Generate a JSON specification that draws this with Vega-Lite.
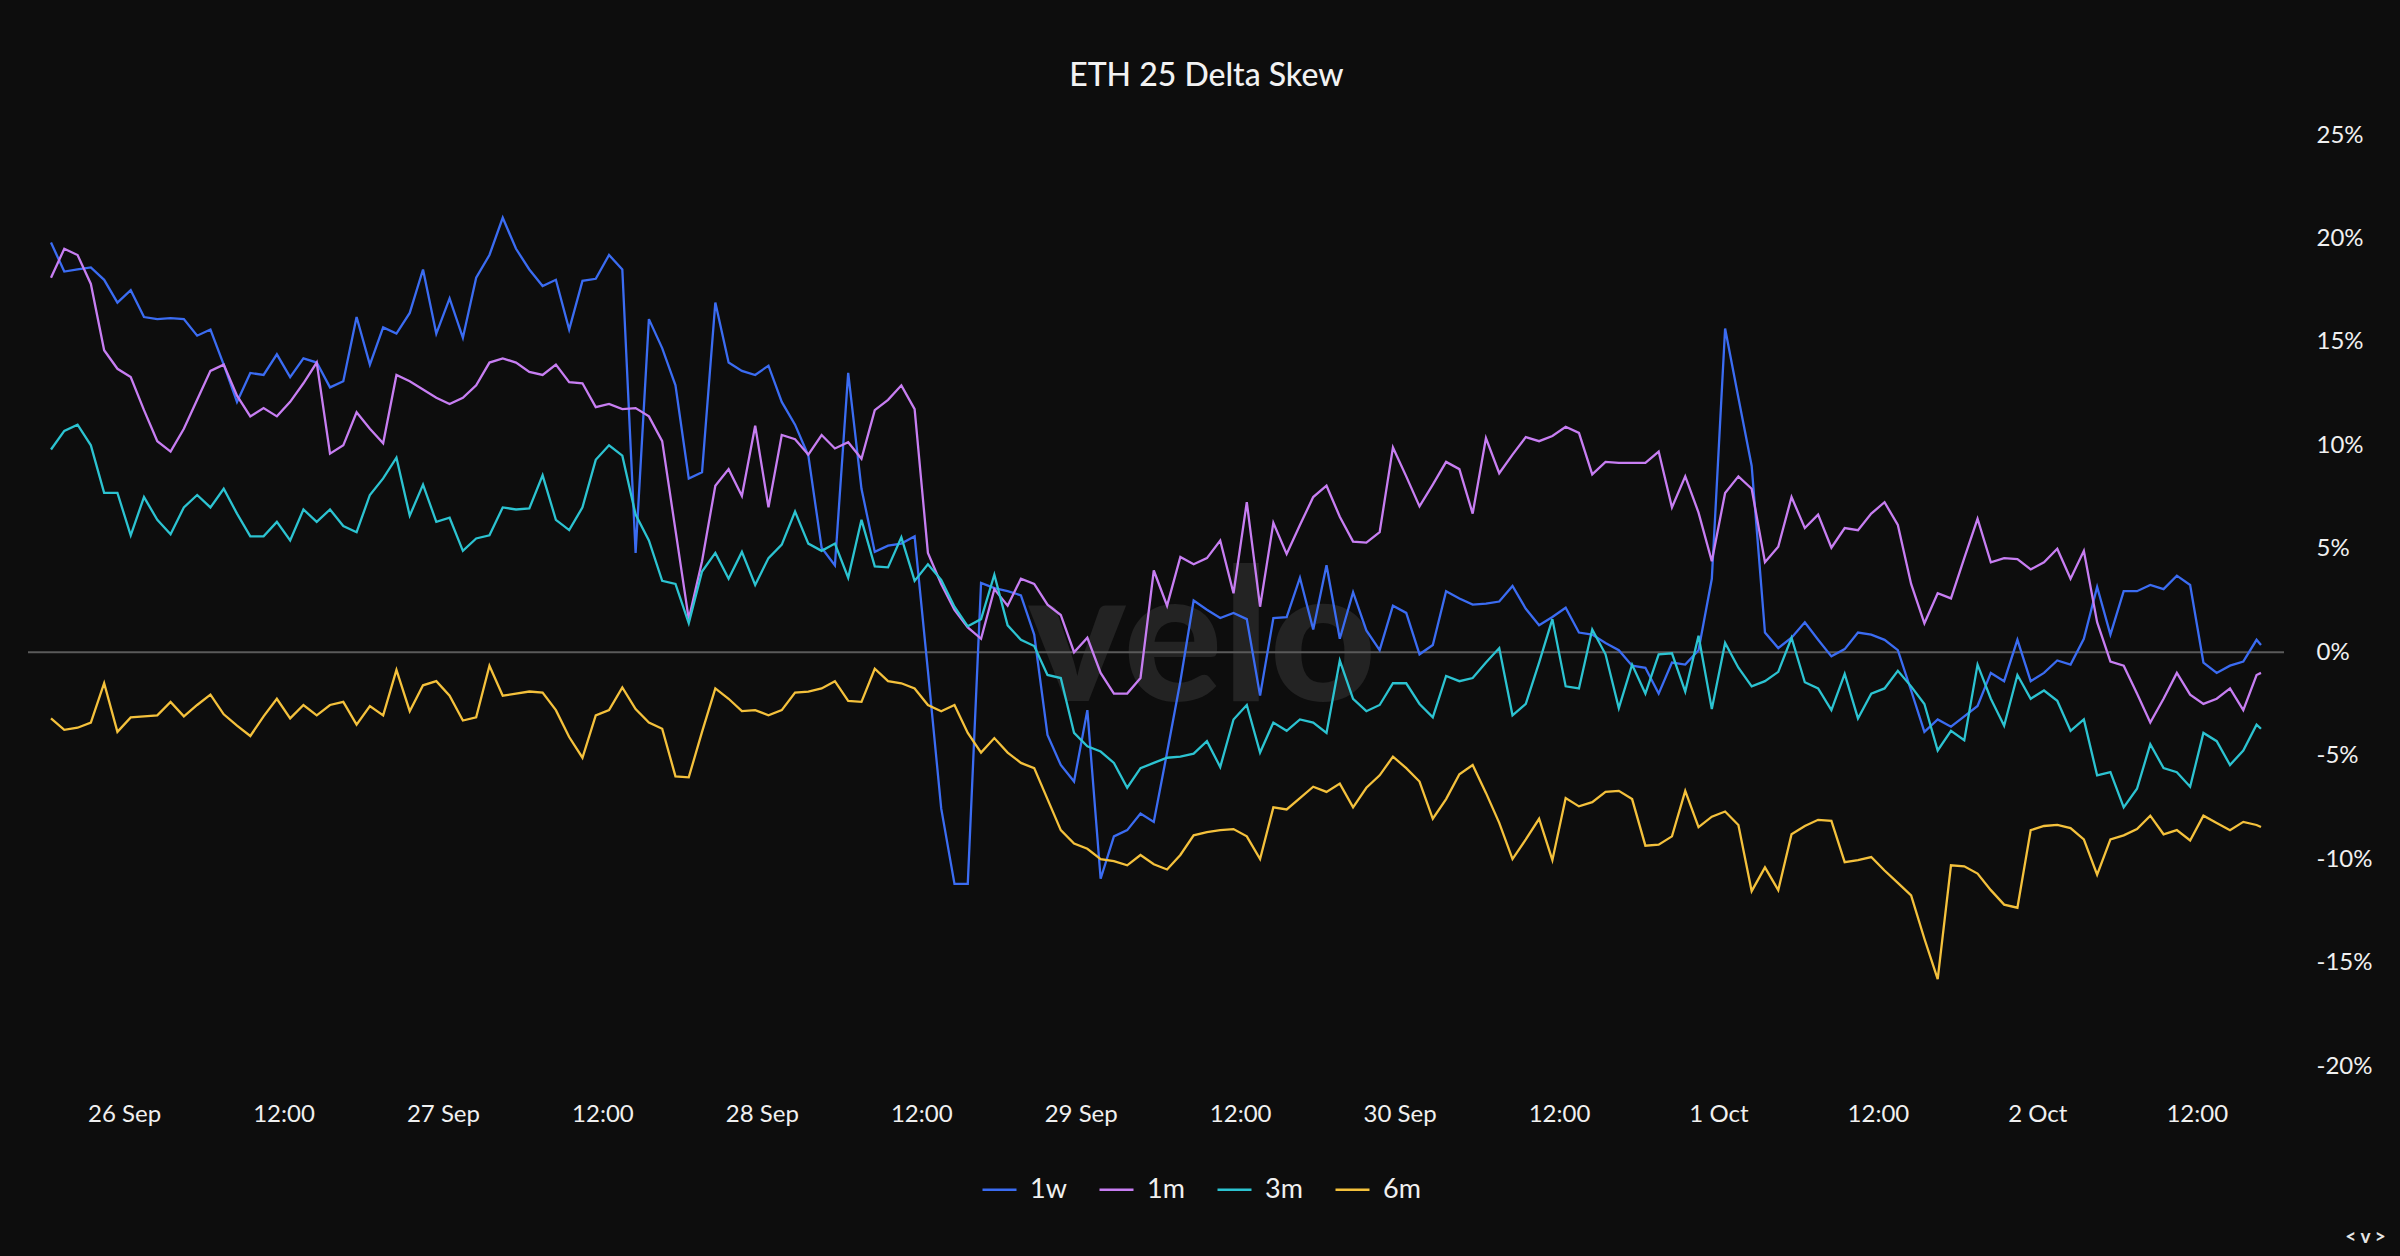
{
  "$schema": "https://vega.github.io/schema/vega-lite/v6.json",
  "description": "ETH 25 delta skew by tenor, hourly.",
  "width": 2256,
  "height": 931,
  "autosize": {"type": "none"},
  "padding": {"left": 28, "top": 135, "right": 116, "bottom": 190},
  "background": "#0d0d0d",
  "config": {"view": {"stroke": null}, "font": "Lato"},
  "title": {
    "text": "ETH 25 Delta Skew",
    "fontSize": 32,
    "fontWeight": 500,
    "color": "#f2f2f2",
    "anchor": "middle",
    "frame": "bounds",
    "baseline": "alphabetic",
    "offset": 5
  },
  "resolve": {"axis": {"x": "independent", "y": "independent"}},
  "layer": [
    {
      "data": {"values": [{}]},
      "mark": {"type": "text", "text": "velo", "font": "Lato", "fontSize": 185, "fontWeight": 900, "color": "#232323", "align": "center", "baseline": "alphabetic", "dx": 46},
      "encoding": {
        "y": {"datum": -2.36, "type": "quantitative", "axis": null}
      }
    },
    {
      "data": {"values": [{}]},
      "mark": {"type": "rule", "color": "#5a5a5a", "strokeWidth": 2},
      "encoding": {
        "y": {"datum": 0, "type": "quantitative", "axis": null}
      }
    },
    {
      "data": {"values": [
        {"t": "2023-09-25T18:30", "1w": 19.8, "1m": 18.1, "3m": 9.8, "6m": -3.2},
        {"t": "2023-09-25T19:30", "1w": 18.4, "1m": 19.5, "3m": 10.7, "6m": -3.75},
        {"t": "2023-09-25T20:30", "1w": 18.5, "1m": 19.2, "3m": 11.0, "6m": -3.65},
        {"t": "2023-09-25T21:30", "1w": 18.6, "1m": 17.8, "3m": 10.0, "6m": -3.4},
        {"t": "2023-09-25T22:30", "1w": 18.0, "1m": 14.6, "3m": 7.7, "6m": -1.5},
        {"t": "2023-09-25T23:30", "1w": 16.9, "1m": 13.7, "3m": 7.7, "6m": -3.85},
        {"t": "2023-09-26T00:30", "1w": 17.5, "1m": 13.3, "3m": 5.65, "6m": -3.15},
        {"t": "2023-09-26T01:30", "1w": 16.2, "1m": 11.7, "3m": 7.5, "6m": -3.1},
        {"t": "2023-09-26T02:30", "1w": 16.1, "1m": 10.2, "3m": 6.4, "6m": -3.05},
        {"t": "2023-09-26T03:30", "1w": 16.15, "1m": 9.7, "3m": 5.7, "6m": -2.4},
        {"t": "2023-09-26T04:30", "1w": 16.1, "1m": 10.8, "3m": 7.0, "6m": -3.1},
        {"t": "2023-09-26T05:30", "1w": 15.3, "1m": 12.2, "3m": 7.6, "6m": -2.55},
        {"t": "2023-09-26T06:30", "1w": 15.6, "1m": 13.6, "3m": 7.0, "6m": -2.05},
        {"t": "2023-09-26T07:30", "1w": 13.9, "1m": 13.9, "3m": 7.9, "6m": -3.0},
        {"t": "2023-09-26T08:30", "1w": 12.1, "1m": 12.4, "3m": 6.7, "6m": -3.55},
        {"t": "2023-09-26T09:30", "1w": 13.5, "1m": 11.4, "3m": 5.6, "6m": -4.05},
        {"t": "2023-09-26T10:30", "1w": 13.4, "1m": 11.8, "3m": 5.6, "6m": -3.1},
        {"t": "2023-09-26T11:30", "1w": 14.4, "1m": 11.4, "3m": 6.3, "6m": -2.25},
        {"t": "2023-09-26T12:30", "1w": 13.3, "1m": 12.1, "3m": 5.4, "6m": -3.2},
        {"t": "2023-09-26T13:30", "1w": 14.2, "1m": 13.0, "3m": 6.9, "6m": -2.55},
        {"t": "2023-09-26T14:30", "1w": 14.0, "1m": 14.0, "3m": 6.3, "6m": -3.05},
        {"t": "2023-09-26T15:30", "1w": 12.8, "1m": 9.6, "3m": 6.9, "6m": -2.55},
        {"t": "2023-09-26T16:30", "1w": 13.1, "1m": 10.0, "3m": 6.1, "6m": -2.4},
        {"t": "2023-09-26T17:30", "1w": 16.2, "1m": 11.6, "3m": 5.8, "6m": -3.5},
        {"t": "2023-09-26T18:30", "1w": 13.9, "1m": 10.8, "3m": 7.6, "6m": -2.6},
        {"t": "2023-09-26T19:30", "1w": 15.7, "1m": 10.1, "3m": 8.4, "6m": -3.05},
        {"t": "2023-09-26T20:30", "1w": 15.4, "1m": 13.4, "3m": 9.4, "6m": -0.85},
        {"t": "2023-09-26T21:30", "1w": 16.4, "1m": 13.1, "3m": 6.6, "6m": -2.85},
        {"t": "2023-09-26T22:30", "1w": 18.5, "1m": 12.7, "3m": 8.1, "6m": -1.6},
        {"t": "2023-09-26T23:30", "1w": 15.4, "1m": 12.3, "3m": 6.3, "6m": -1.4},
        {"t": "2023-09-27T00:30", "1w": 17.1, "1m": 12.0, "3m": 6.5, "6m": -2.1},
        {"t": "2023-09-27T01:30", "1w": 15.2, "1m": 12.3, "3m": 4.9, "6m": -3.3},
        {"t": "2023-09-27T02:30", "1w": 18.1, "1m": 12.9, "3m": 5.5, "6m": -3.15},
        {"t": "2023-09-27T03:30", "1w": 19.2, "1m": 14.0, "3m": 5.65, "6m": -0.65},
        {"t": "2023-09-27T04:30", "1w": 21.0, "1m": 14.2, "3m": 7.0, "6m": -2.1},
        {"t": "2023-09-27T05:30", "1w": 19.5, "1m": 14.0, "3m": 6.9, "6m": -2.0},
        {"t": "2023-09-27T06:30", "1w": 18.5, "1m": 13.55, "3m": 6.95, "6m": -1.9},
        {"t": "2023-09-27T07:30", "1w": 17.7, "1m": 13.4, "3m": 8.55, "6m": -1.95},
        {"t": "2023-09-27T08:30", "1w": 18.0, "1m": 13.9, "3m": 6.4, "6m": -2.8},
        {"t": "2023-09-27T09:30", "1w": 15.6, "1m": 13.05, "3m": 5.9, "6m": -4.1},
        {"t": "2023-09-27T10:30", "1w": 17.95, "1m": 13.0, "3m": 7.0, "6m": -5.1},
        {"t": "2023-09-27T11:30", "1w": 18.05, "1m": 11.85, "3m": 9.3, "6m": -3.05},
        {"t": "2023-09-27T12:30", "1w": 19.2, "1m": 12.0, "3m": 10.0, "6m": -2.8},
        {"t": "2023-09-27T13:30", "1w": 18.5, "1m": 11.75, "3m": 9.5, "6m": -1.7},
        {"t": "2023-09-27T14:30", "1w": 4.8, "1m": 11.8, "3m": 6.65, "6m": -2.75},
        {"t": "2023-09-27T15:30", "1w": 16.1, "1m": 11.4, "3m": 5.4, "6m": -3.4},
        {"t": "2023-09-27T16:30", "1w": 14.7, "1m": 10.2, "3m": 3.45, "6m": -3.7},
        {"t": "2023-09-27T17:30", "1w": 12.9, "1m": 5.9, "3m": 3.3, "6m": -6.0},
        {"t": "2023-09-27T18:30", "1w": 8.4, "1m": 1.6, "3m": 1.4, "6m": -6.05},
        {"t": "2023-09-27T19:30", "1w": 8.7, "1m": 4.4, "3m": 3.9, "6m": -3.85},
        {"t": "2023-09-27T20:30", "1w": 16.9, "1m": 8.05, "3m": 4.8, "6m": -1.75},
        {"t": "2023-09-27T21:30", "1w": 14.0, "1m": 8.85, "3m": 3.55, "6m": -2.25},
        {"t": "2023-09-27T22:30", "1w": 13.6, "1m": 7.55, "3m": 4.85, "6m": -2.85},
        {"t": "2023-09-27T23:30", "1w": 13.4, "1m": 10.95, "3m": 3.25, "6m": -2.8},
        {"t": "2023-09-28T00:30", "1w": 13.85, "1m": 7.0, "3m": 4.55, "6m": -3.05},
        {"t": "2023-09-28T01:30", "1w": 12.1, "1m": 10.5, "3m": 5.2, "6m": -2.8},
        {"t": "2023-09-28T02:30", "1w": 11.0, "1m": 10.3, "3m": 6.8, "6m": -1.95},
        {"t": "2023-09-28T03:30", "1w": 9.5, "1m": 9.55, "3m": 5.25, "6m": -1.9},
        {"t": "2023-09-28T04:30", "1w": 5.05, "1m": 10.5, "3m": 4.9, "6m": -1.75},
        {"t": "2023-09-28T05:30", "1w": 4.2, "1m": 9.85, "3m": 5.25, "6m": -1.4},
        {"t": "2023-09-28T06:30", "1w": 13.5, "1m": 10.15, "3m": 3.6, "6m": -2.35},
        {"t": "2023-09-28T07:30", "1w": 7.9, "1m": 9.35, "3m": 6.4, "6m": -2.4},
        {"t": "2023-09-28T08:30", "1w": 4.85, "1m": 11.7, "3m": 4.15, "6m": -0.8},
        {"t": "2023-09-28T09:30", "1w": 5.15, "1m": 12.2, "3m": 4.1, "6m": -1.4},
        {"t": "2023-09-28T10:30", "1w": 5.25, "1m": 12.9, "3m": 5.55, "6m": -1.5},
        {"t": "2023-09-28T11:30", "1w": 5.6, "1m": 11.75, "3m": 3.45, "6m": -1.75},
        {"t": "2023-09-28T12:30", "1w": -0.9, "1m": 4.8, "3m": 4.25, "6m": -2.55},
        {"t": "2023-09-28T13:30", "1w": -7.55, "1m": 3.3, "3m": 3.5, "6m": -2.85},
        {"t": "2023-09-28T14:30", "1w": -11.2, "1m": 2.05, "3m": 2.2, "6m": -2.55},
        {"t": "2023-09-28T15:30", "1w": -11.2, "1m": 1.2, "3m": 1.25, "6m": -3.9},
        {"t": "2023-09-28T16:30", "1w": 3.35, "1m": 0.65, "3m": 1.6, "6m": -4.85},
        {"t": "2023-09-28T17:30", "1w": 3.1, "1m": 3.05, "3m": 3.75, "6m": -4.15},
        {"t": "2023-09-28T18:30", "1w": 2.95, "1m": 2.25, "3m": 1.3, "6m": -4.85},
        {"t": "2023-09-28T19:30", "1w": 2.75, "1m": 3.55, "3m": 0.6, "6m": -5.35},
        {"t": "2023-09-28T20:30", "1w": 0.85, "1m": 3.3, "3m": 0.3, "6m": -5.6},
        {"t": "2023-09-28T21:30", "1w": -4.0, "1m": 2.3, "3m": -1.1, "6m": -7.1},
        {"t": "2023-09-28T22:30", "1w": -5.45, "1m": 1.8, "3m": -1.25, "6m": -8.6},
        {"t": "2023-09-28T23:30", "1w": -6.25, "1m": 0.0, "3m": -3.9, "6m": -9.25},
        {"t": "2023-09-29T00:30", "1w": -2.8, "1m": 0.7, "3m": -4.55, "6m": -9.5},
        {"t": "2023-09-29T01:30", "1w": -10.95, "1m": -1.0, "3m": -4.8, "6m": -10.0},
        {"t": "2023-09-29T02:30", "1w": -8.9, "1m": -2.0, "3m": -5.35, "6m": -10.1},
        {"t": "2023-09-29T03:30", "1w": -8.6, "1m": -2.0, "3m": -6.55, "6m": -10.3},
        {"t": "2023-09-29T04:30", "1w": -7.8, "1m": -1.25, "3m": -5.6, "6m": -9.8},
        {"t": "2023-09-29T05:30", "1w": -8.2, "1m": 3.95, "3m": -5.35, "6m": -10.25},
        {"t": "2023-09-29T06:30", "1w": -4.85, "1m": 2.25, "3m": -5.1, "6m": -10.5},
        {"t": "2023-09-29T07:30", "1w": -1.4, "1m": 4.6, "3m": -5.05, "6m": -9.8},
        {"t": "2023-09-29T08:30", "1w": 2.5, "1m": 4.25, "3m": -4.9, "6m": -8.85},
        {"t": "2023-09-29T09:30", "1w": 2.05, "1m": 4.55, "3m": -4.3, "6m": -8.7},
        {"t": "2023-09-29T10:30", "1w": 1.65, "1m": 5.4, "3m": -5.55, "6m": -8.6},
        {"t": "2023-09-29T11:30", "1w": 1.9, "1m": 2.85, "3m": -3.25, "6m": -8.55},
        {"t": "2023-09-29T12:30", "1w": 1.6, "1m": 7.25, "3m": -2.55, "6m": -8.9},
        {"t": "2023-09-29T13:30", "1w": -2.1, "1m": 2.2, "3m": -4.85, "6m": -10.0},
        {"t": "2023-09-29T14:30", "1w": 1.65, "1m": 6.25, "3m": -3.4, "6m": -7.5},
        {"t": "2023-09-29T15:30", "1w": 1.7, "1m": 4.75, "3m": -3.8, "6m": -7.6},
        {"t": "2023-09-29T16:30", "1w": 3.6, "1m": 6.15, "3m": -3.25, "6m": -7.05},
        {"t": "2023-09-29T17:30", "1w": 1.1, "1m": 7.5, "3m": -3.4, "6m": -6.5},
        {"t": "2023-09-29T18:30", "1w": 4.2, "1m": 8.05, "3m": -3.9, "6m": -6.75},
        {"t": "2023-09-29T19:30", "1w": 0.65, "1m": 6.55, "3m": -0.4, "6m": -6.35},
        {"t": "2023-09-29T20:30", "1w": 2.9, "1m": 5.35, "3m": -2.25, "6m": -7.5},
        {"t": "2023-09-29T21:30", "1w": 1.05, "1m": 5.3, "3m": -2.85, "6m": -6.55},
        {"t": "2023-09-29T22:30", "1w": 0.1, "1m": 5.8, "3m": -2.55, "6m": -5.95},
        {"t": "2023-09-29T23:30", "1w": 2.25, "1m": 9.9, "3m": -1.5, "6m": -5.05},
        {"t": "2023-09-30T00:30", "1w": 1.9, "1m": 8.5, "3m": -1.5, "6m": -5.6},
        {"t": "2023-09-30T01:30", "1w": -0.1, "1m": 7.05, "3m": -2.5, "6m": -6.25},
        {"t": "2023-09-30T02:30", "1w": 0.35, "1m": 8.1, "3m": -3.15, "6m": -8.05},
        {"t": "2023-09-30T03:30", "1w": 2.95, "1m": 9.2, "3m": -1.15, "6m": -7.1},
        {"t": "2023-09-30T04:30", "1w": 2.6, "1m": 8.85, "3m": -1.4, "6m": -5.9},
        {"t": "2023-09-30T05:30", "1w": 2.3, "1m": 6.7, "3m": -1.25, "6m": -5.45},
        {"t": "2023-09-30T06:30", "1w": 2.35, "1m": 10.35, "3m": -0.5, "6m": -6.8},
        {"t": "2023-09-30T07:30", "1w": 2.45, "1m": 8.65, "3m": 0.2, "6m": -8.25},
        {"t": "2023-09-30T08:30", "1w": 3.2, "1m": 9.55, "3m": -3.05, "6m": -10.0},
        {"t": "2023-09-30T09:30", "1w": 2.1, "1m": 10.4, "3m": -2.5, "6m": -9.05},
        {"t": "2023-09-30T10:30", "1w": 1.3, "1m": 10.2, "3m": -0.5, "6m": -8.05},
        {"t": "2023-09-30T11:30", "1w": 1.7, "1m": 10.45, "3m": 1.6, "6m": -10.05},
        {"t": "2023-09-30T12:30", "1w": 2.15, "1m": 10.9, "3m": -1.65, "6m": -7.05},
        {"t": "2023-09-30T13:30", "1w": 0.95, "1m": 10.6, "3m": -1.75, "6m": -7.45},
        {"t": "2023-09-30T14:30", "1w": 0.85, "1m": 8.6, "3m": 1.1, "6m": -7.25},
        {"t": "2023-09-30T15:30", "1w": 0.45, "1m": 9.2, "3m": -0.1, "6m": -6.75},
        {"t": "2023-09-30T16:30", "1w": 0.1, "1m": 9.15, "3m": -2.7, "6m": -6.7},
        {"t": "2023-09-30T17:30", "1w": -0.65, "1m": 9.15, "3m": -0.6, "6m": -7.1},
        {"t": "2023-09-30T18:30", "1w": -0.75, "1m": 9.15, "3m": -2.0, "6m": -9.35},
        {"t": "2023-09-30T19:30", "1w": -2.0, "1m": 9.7, "3m": -0.1, "6m": -9.3},
        {"t": "2023-09-30T20:30", "1w": -0.5, "1m": 7.0, "3m": -0.05, "6m": -8.9},
        {"t": "2023-09-30T21:30", "1w": -0.6, "1m": 8.5, "3m": -1.9, "6m": -6.7},
        {"t": "2023-09-30T22:30", "1w": 0.1, "1m": 6.75, "3m": 0.8, "6m": -8.45},
        {"t": "2023-09-30T23:30", "1w": 3.55, "1m": 4.4, "3m": -2.75, "6m": -7.95},
        {"t": "2023-10-01T00:30", "1w": 15.65, "1m": 7.7, "3m": 0.45, "6m": -7.7},
        {"t": "2023-10-01T01:30", "1w": 12.3, "1m": 8.5, "3m": -0.75, "6m": -8.35},
        {"t": "2023-10-01T02:30", "1w": 9.0, "1m": 7.9, "3m": -1.65, "6m": -11.55},
        {"t": "2023-10-01T03:30", "1w": 0.95, "1m": 4.35, "3m": -1.4, "6m": -10.4},
        {"t": "2023-10-01T04:30", "1w": 0.2, "1m": 5.1, "3m": -0.95, "6m": -11.5},
        {"t": "2023-10-01T05:30", "1w": 0.7, "1m": 7.5, "3m": 0.7, "6m": -8.8},
        {"t": "2023-10-01T06:30", "1w": 1.45, "1m": 6.0, "3m": -1.45, "6m": -8.4},
        {"t": "2023-10-01T07:30", "1w": 0.6, "1m": 6.65, "3m": -1.75, "6m": -8.1},
        {"t": "2023-10-01T08:30", "1w": -0.2, "1m": 5.05, "3m": -2.8, "6m": -8.15},
        {"t": "2023-10-01T09:30", "1w": 0.15, "1m": 6.0, "3m": -1.05, "6m": -10.15},
        {"t": "2023-10-01T10:30", "1w": 0.95, "1m": 5.9, "3m": -3.2, "6m": -10.05},
        {"t": "2023-10-01T11:30", "1w": 0.85, "1m": 6.7, "3m": -2.0, "6m": -9.9},
        {"t": "2023-10-01T12:30", "1w": 0.6, "1m": 7.25, "3m": -1.75, "6m": -10.55},
        {"t": "2023-10-01T13:30", "1w": 0.1, "1m": 6.15, "3m": -0.9, "6m": -11.15},
        {"t": "2023-10-01T14:30", "1w": -1.85, "1m": 3.3, "3m": -1.65, "6m": -11.75},
        {"t": "2023-10-01T15:30", "1w": -3.85, "1m": 1.4, "3m": -2.5, "6m": -13.85},
        {"t": "2023-10-01T16:30", "1w": -3.25, "1m": 2.85, "3m": -4.75, "6m": -15.8},
        {"t": "2023-10-01T17:30", "1w": -3.6, "1m": 2.6, "3m": -3.8, "6m": -10.3},
        {"t": "2023-10-01T18:30", "1w": -3.1, "1m": 4.55, "3m": -4.25, "6m": -10.35},
        {"t": "2023-10-01T19:30", "1w": -2.6, "1m": 6.45, "3m": -0.6, "6m": -10.7},
        {"t": "2023-10-01T20:30", "1w": -1.0, "1m": 4.35, "3m": -2.25, "6m": -11.5},
        {"t": "2023-10-01T21:30", "1w": -1.4, "1m": 4.55, "3m": -3.55, "6m": -12.2},
        {"t": "2023-10-01T22:30", "1w": 0.6, "1m": 4.5, "3m": -1.1, "6m": -12.35},
        {"t": "2023-10-01T23:30", "1w": -1.4, "1m": 4.0, "3m": -2.25, "6m": -8.6},
        {"t": "2023-10-02T00:30", "1w": -1.0, "1m": 4.35, "3m": -1.85, "6m": -8.4},
        {"t": "2023-10-02T01:30", "1w": -0.4, "1m": 5.0, "3m": -2.35, "6m": -8.35},
        {"t": "2023-10-02T02:30", "1w": -0.6, "1m": 3.55, "3m": -3.8, "6m": -8.5},
        {"t": "2023-10-02T03:30", "1w": 0.65, "1m": 4.9, "3m": -3.25, "6m": -9.05},
        {"t": "2023-10-02T04:30", "1w": 3.15, "1m": 1.45, "3m": -5.95, "6m": -10.75},
        {"t": "2023-10-02T05:30", "1w": 0.85, "1m": -0.45, "3m": -5.8, "6m": -9.05},
        {"t": "2023-10-02T06:30", "1w": 2.95, "1m": -0.65, "3m": -7.5, "6m": -8.85},
        {"t": "2023-10-02T07:30", "1w": 2.95, "1m": -2.0, "3m": -6.6, "6m": -8.55},
        {"t": "2023-10-02T08:30", "1w": 3.25, "1m": -3.4, "3m": -4.45, "6m": -7.9},
        {"t": "2023-10-02T09:30", "1w": 3.05, "1m": -2.25, "3m": -5.6, "6m": -8.8},
        {"t": "2023-10-02T10:30", "1w": 3.7, "1m": -1.0, "3m": -5.8, "6m": -8.6},
        {"t": "2023-10-02T11:30", "1w": 3.25, "1m": -2.05, "3m": -6.5, "6m": -9.1},
        {"t": "2023-10-02T12:30", "1w": -0.5, "1m": -2.5, "3m": -3.9, "6m": -7.9},
        {"t": "2023-10-02T13:30", "1w": -1.0, "1m": -2.25, "3m": -4.3, "6m": -8.25},
        {"t": "2023-10-02T14:30", "1w": -0.65, "1m": -1.75, "3m": -5.45, "6m": -8.6},
        {"t": "2023-10-02T15:30", "1w": -0.45, "1m": -2.8, "3m": -4.75, "6m": -8.2},
        {"t": "2023-10-02T16:30", "1w": 0.6, "1m": -1.1, "3m": -3.5, "6m": -8.35},
        {"t": "2023-10-02T16:50", "1w": 0.35, "1m": -1.0, "3m": -3.7, "6m": -8.45}
      ]},
      "transform": [{"fold": ["1w", "1m", "3m", "6m"], "as": ["tenor", "skew"]}],
      "mark": {"type": "line", "strokeWidth": 2.3, "interpolate": "linear"},
      "encoding": {
        "x": {
          "field": "t",
          "type": "temporal",
          "scale": {"padding": 23, "nice": false},
          "axis": {
            "title": null,
            "tickCount": 14,
            "labelExpr": "hours(datum.value) == 0 ? timeFormat(datum.value, '%-d %b') : timeFormat(datum.value, '%H:%M')",
            "labelFontSize": 24,
            "labelColor": "#f0f0f0",
            "labelPadding": 36,
            "labelFlush": false,
            "labelOverlap": false,
            "ticks": false,
            "domain": false,
            "grid": false
          }
        },
        "y": {
          "field": "skew",
          "type": "quantitative",
          "scale": {"domain": [-20, 25], "nice": false, "zero": false},
          "axis": {
            "orient": "right",
            "title": "< v >",
            "titleAngle": 0,
            "titleX": 81,
            "titleY": 1101,
            "titleAlign": "center",
            "titleBaseline": "middle",
            "titleFontSize": 19,
            "titleFontWeight": "bold",
            "titleColor": "#e6e6e6",
            "values": [-20, -15, -10, -5, 0, 5, 10, 15, 20, 25],
            "labelExpr": "datum.value + '%'",
            "labelFontSize": 24,
            "labelColor": "#f0f0f0",
            "labelPadding": 32,
            "ticks": false,
            "domain": false,
            "grid": false
          }
        },
        "color": {
          "field": "tenor",
          "type": "nominal",
          "scale": {"domain": ["1w", "1m", "3m", "6m"], "range": ["#3b6cf2", "#c77ef2", "#2cc3d1", "#f4c13c"]},
          "legend": {
            "title": null,
            "orient": "none",
            "direction": "horizontal",
            "legendX": 953,
            "legendY": 1036,
            "symbolType": "stroke",
            "symbolSize": 1156,
            "symbolStrokeWidth": 2.5,
            "labelFontSize": 27,
            "labelColor": "#f0f0f0",
            "labelOffset": 12,
            "columnPadding": 27
          }
        }
      }
    }
  ]
}
